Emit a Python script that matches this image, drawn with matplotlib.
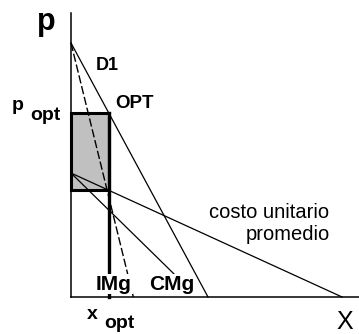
import matplotlib.pyplot as plt
from matplotlib.patches import Rectangle

# Straight-line curves of the monopoly diagram (quantity x, price p)
demand_x = [0.0, 10.0]
demand_p = [10.0, 0.0]
img_x = [0.0, 4.55]          # marginal revenue (IMg)
img_p = [10.0, 0.0]
cmg_x = [0.0, 7.59]          # marginal cost (CMg)
cmg_p = [4.88, 0.87]
cu_x = [0.0, 19.78]          # average unit cost
cu_p = [4.88, 0.0]

x_opt = 2.77
p_opt = 7.24
cu_opt = 4.2                 # average cost at x_opt

x_max = 21.0
p_max = 11.18

plt.rcParams['font.family'] = ['Liberation Sans', 'DejaVu Sans']

fig = plt.figure(figsize=(3.59, 3.34), dpi=100)
ax = fig.add_axes([0, 0, 1, 1])
ax.set_xlim(-5.18, 21.02)
ax.set_ylim(-1.457, 11.69)

# axes drawn through the origin, no ticks
for side in ['top', 'right']:
    ax.spines[side].set_visible(False)
ax.spines['left'].set_position(('data', 0))
ax.spines['bottom'].set_position(('data', 0))
ax.spines['left'].set_bounds(0, p_max)
ax.spines['bottom'].set_bounds(0, x_max)
for side in ['left', 'bottom']:
    ax.spines[side].set_linewidth(1.1)
ax.set_xticks([])
ax.set_yticks([])

# profit rectangle
ax.add_patch(Rectangle((0, cu_opt), x_opt, p_opt - cu_opt,
                       facecolor='#c0c0c0', edgecolor='black', linewidth=2.2, zorder=1))
ax.plot([x_opt, x_opt], [0, p_opt], color='black', linewidth=2.4, zorder=2)

ax.plot(demand_x, demand_p, color='black', linewidth=0.9, zorder=3)
ax.plot(img_x, img_p, color='black', linewidth=1.0, linestyle=(0, (6, 2)), zorder=3)
ax.plot(cmg_x, cmg_p, color='black', linewidth=0.9, zorder=3)
ax.plot(cu_x, cu_p, color='black', linewidth=0.9, zorder=3)

bold = dict(fontweight='bold', color='black')
ax.text(-1.82, 10.83, 'p', fontsize=22, ha='center', va='center', **bold)
ax.text(2.63, 9.13, 'D1', fontsize=13, ha='center', va='center', **bold)
ax.text(-3.87, 7.55, 'p', fontsize=14, ha='center', va='center', **bold)
ax.text(-1.90, 7.15, 'opt', fontsize=14, ha='center', va='center', **bold)
ax.text(4.67, 7.60, 'OPT', fontsize=13.5, ha='center', va='center', **bold)

ax.text(18.83, 3.31, 'costo unitario', fontsize=14.5, ha='right', va='center')
ax.text(18.9, 2.44, 'promedio', fontsize=14.5, ha='right', va='center')

white = dict(facecolor='white', edgecolor='none', pad=0.5)
ax.text(3.14, 0.51, 'IMg', fontsize=15, ha='center', va='center', bbox=white, zorder=5, **bold)
ax.text(7.37, 0.51, 'CMg', fontsize=15, ha='center', va='center', bbox=white, zorder=5, **bold)

ax.text(1.53, -0.67, 'x', fontsize=14, ha='center', va='center', **bold)
ax.text(3.50, -1.06, 'opt', fontsize=14, ha='center', va='center', **bold)
ax.text(20.0, -1.0, 'X', fontsize=18, ha='center', va='center')

fig.savefig('out.png', dpi=100)
